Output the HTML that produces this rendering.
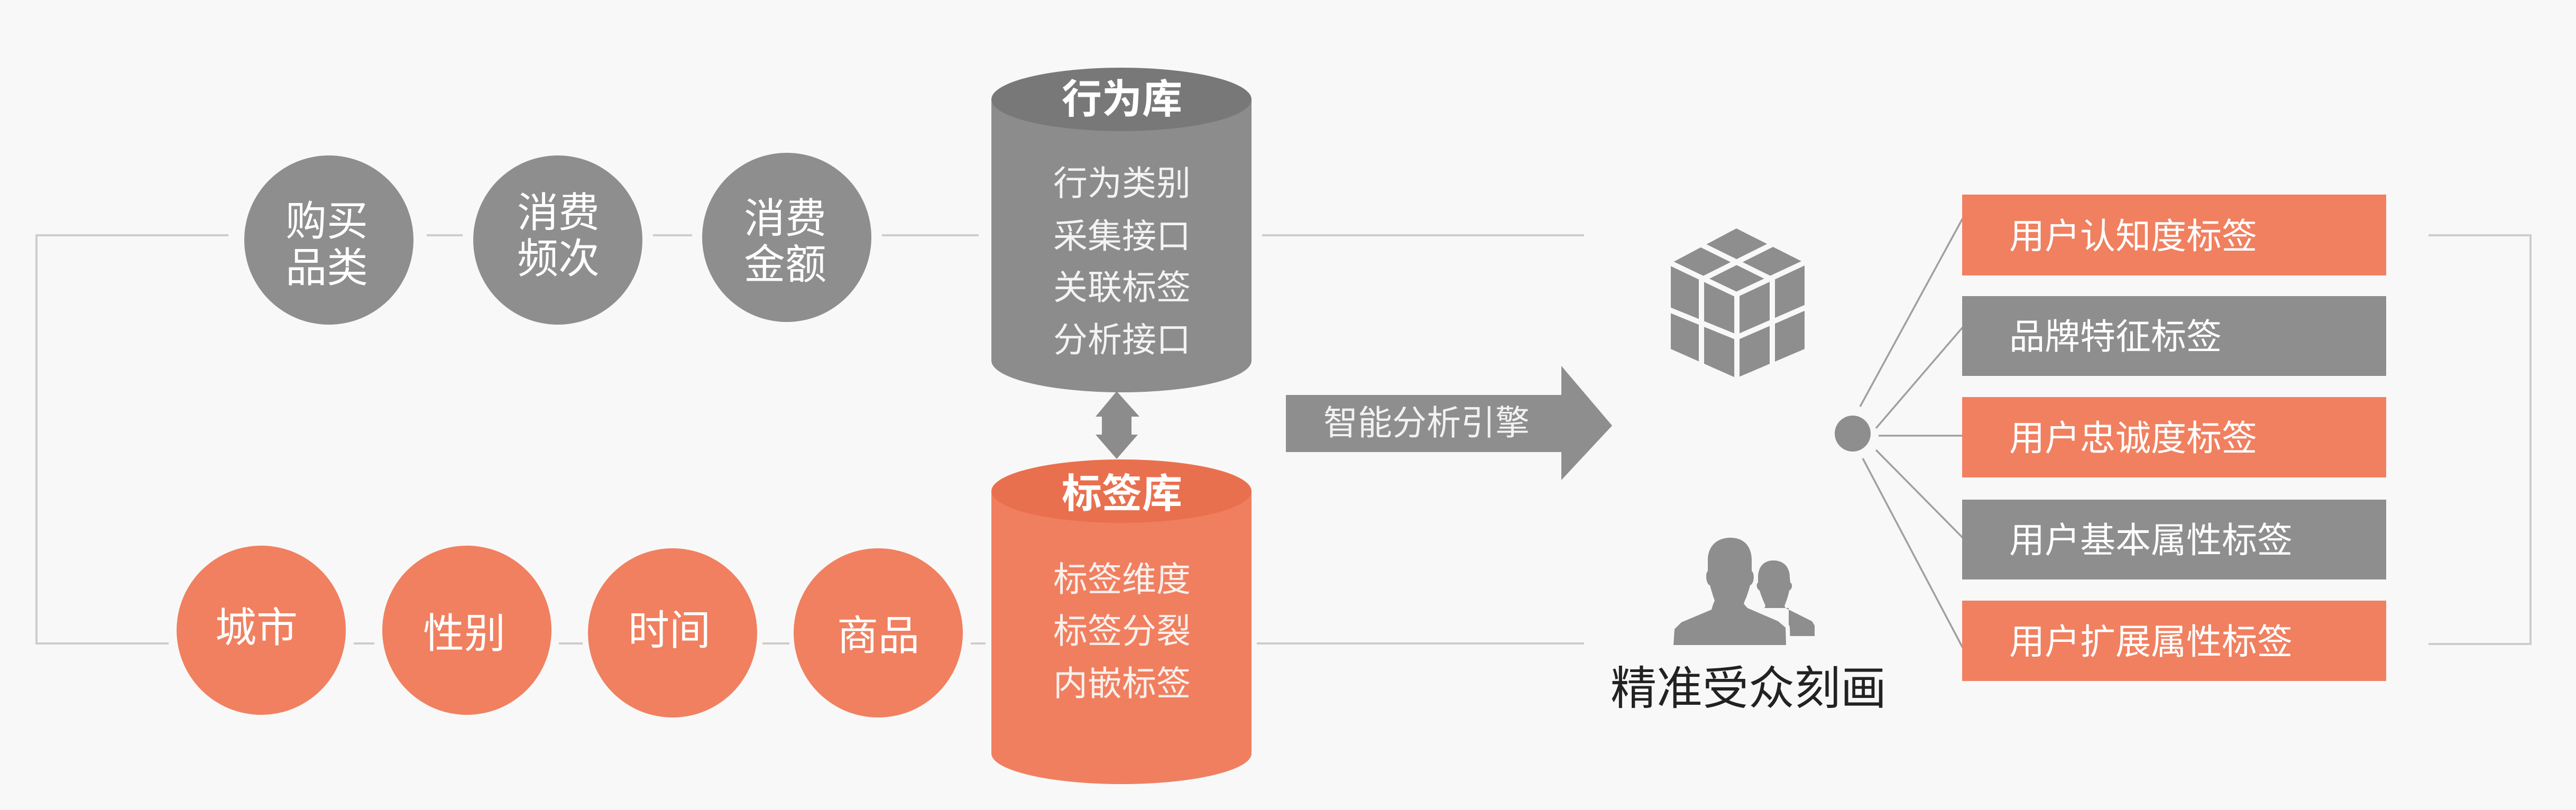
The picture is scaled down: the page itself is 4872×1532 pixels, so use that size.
<!DOCTYPE html>
<html>
<head>
<meta charset="utf-8">
<style>
  html, body { margin:0; padding:0; background:#f8f8f8; }
  body { width:4872px; height:1532px; overflow:hidden; }
  svg { display:block; }
  text { font-family: "Liberation Sans", "Noto Sans CJK SC", "WenQuanYi Zen Hei", sans-serif; }
</style>
</head>
<body>
<svg width="4872" height="1532" viewBox="0 0 4872 1532" xmlns="http://www.w3.org/2000/svg">
  <rect x="0" y="0" width="4872" height="1532" fill="#f8f8f8"/>

  <!-- connector lines -->
  <g stroke="#cdcdcd" stroke-width="4" fill="none">
    <polyline points="432,445 69,445 69,1217 319,1217"/>
    <line x1="807" y1="445" x2="875" y2="445"/>
    <line x1="1235" y1="445" x2="1309" y2="445"/>
    <line x1="1668" y1="445" x2="1851" y2="445"/>
    <line x1="2387" y1="445" x2="2996" y2="445"/>
    <line x1="669" y1="1217" x2="708" y2="1217"/>
    <line x1="1057" y1="1217" x2="1102" y2="1217"/>
    <line x1="1442" y1="1217" x2="1493" y2="1217"/>
    <line x1="1836" y1="1217" x2="1864" y2="1217"/>
    <line x1="2377" y1="1217" x2="2996" y2="1217"/>
    <polyline points="4593,445 4786,445 4786,1218 4593,1218"/>
  </g>

  <!-- top gray circles -->
  <g fill="#8e8e8e">
    <circle cx="622" cy="454" r="160"/>
    <circle cx="1055" cy="454" r="160"/>
    <circle cx="1488" cy="449" r="160"/>
  </g>
  <g fill="#ffffff" font-size="78" text-anchor="middle">
    <text x="618" y="445">购买</text>
    <text x="618" y="533">品类</text>
    <text x="1056" y="429">消费</text>
    <text x="1056" y="516">频次</text>
    <text x="1485" y="440">消费</text>
    <text x="1485" y="527">金额</text>
  </g>

  <!-- bottom orange circles -->
  <g fill="#f08060">
    <circle cx="494" cy="1192" r="160"/>
    <circle cx="883" cy="1192" r="160"/>
    <circle cx="1272" cy="1197" r="160"/>
    <circle cx="1661" cy="1197" r="160"/>
  </g>
  <g fill="#ffffff" font-size="78" text-anchor="middle">
    <text x="485" y="1214">城市</text>
    <text x="878" y="1225">性别</text>
    <text x="1266" y="1219">时间</text>
    <text x="1661" y="1229">商品</text>
  </g>

  <!-- 行为库 cylinder -->
  <path d="M1875,188 L1875,682 A246,60 0 0 0 2367,682 L2367,188 Z" fill="#8c8c8c"/>
  <ellipse cx="2121" cy="188" rx="246" ry="60" fill="#787878"/>
  <text x="2122" y="214" font-size="76" font-weight="bold" fill="#ffffff" text-anchor="middle">行为库</text>
  <g fill="#f3f3f3" font-size="65" text-anchor="middle">
    <text x="2122" y="369">行为类别</text>
    <text x="2122" y="469">采集接口</text>
    <text x="2122" y="566">关联标签</text>
    <text x="2122" y="665">分析接口</text>
  </g>

  <!-- double arrow -->
  <polygon points="2112,740 2155,788 2140,788 2140,822 2152,822 2112,868 2072,822 2084,822 2084,788 2072,788" fill="#8c8c8c"/>

  <!-- 标签库 cylinder -->
  <path d="M1875,929 L1875,1425 A246,58 0 0 0 2367,1425 L2367,929 Z" fill="#f07f60"/>
  <ellipse cx="2121" cy="929" rx="246" ry="60" fill="#e9704e"/>
  <text x="2122" y="960" font-size="76" font-weight="bold" fill="#ffffff" text-anchor="middle">标签库</text>
  <g fill="#f8f0ec" font-size="65" text-anchor="middle">
    <text x="2122" y="1118">标签维度</text>
    <text x="2122" y="1216">标签分裂</text>
    <text x="2122" y="1315">内嵌标签</text>
  </g>

  <!-- big arrow -->
  <polygon points="2432,747 2953,747 2953,692 3049,805 2953,908 2953,855 2432,855" fill="#8e8e8e"/>
  <text x="2698" y="822" font-size="65" fill="#f2f2f2" text-anchor="middle">智能分析引擎</text>

  <!-- cube icon -->
  <polygon points="3284,432 3413,497 3413,660 3284,715 3160,660 3160,498" fill="#8e8e8e"/>
  <g stroke="#f8f8f8" stroke-width="10" fill="none" stroke-linecap="square">
    <line x1="3150" y1="493" x2="3284" y2="557"/>
    <line x1="3284" y1="557" x2="3423" y2="492"/>
    <line x1="3285" y1="557" x2="3285" y2="725"/>
    <line x1="3222" y1="465" x2="3348" y2="527"/>
    <line x1="3348" y1="464" x2="3222" y2="527"/>
    <line x1="3218" y1="527" x2="3218" y2="695"/>
    <line x1="3352" y1="527" x2="3352" y2="695"/>
    <line x1="3150" y1="583" x2="3285" y2="638"/>
    <line x1="3285" y1="638" x2="3423" y2="578"/>
  </g>

  <!-- people icon -->
  <path d="M3354,1060 C3336,1060 3325,1072 3325,1092 L3325,1102 C3321,1104 3322,1114 3328,1117 C3331,1128 3336,1138 3339,1146 L3337,1150 L3383,1150 L3383,1203 L3432,1203 L3432,1183 L3427,1175 L3377,1150 L3375,1146 C3378,1138 3382,1128 3384,1117 C3390,1114 3391,1104 3386,1102 L3385,1092 C3385,1072 3373,1060 3354,1060 Z" fill="#8e8e8e"/>
  <path d="M3273,1017 C3248,1017 3230,1032 3230,1060 L3230,1080 C3225,1084 3226,1104 3234,1107 C3237,1118 3240,1128 3243,1136 L3240,1143 L3237,1153 L3180,1177 L3167,1190 L3165,1220 L3378,1220 L3377,1187 L3363,1175 L3305,1150 L3298,1142 L3300,1136 C3304,1128 3307,1118 3310,1107 C3318,1104 3319,1084 3313,1080 L3313,1060 C3313,1032 3297,1017 3273,1017 Z" fill="#8e8e8e" stroke="#f8f8f8" stroke-width="16" paint-order="stroke" stroke-linejoin="round"/>

  <text x="3307" y="1332" font-size="87" fill="#222222" text-anchor="middle">精准受众刻画</text>

  <!-- hub -->
  <circle cx="3504" cy="820" r="34" fill="#8e8e8e"/>
  <g stroke="#a0a0a0" stroke-width="3.5" fill="none">
    <line x1="3518" y1="769" x2="3712" y2="413"/>
    <line x1="3548" y1="810" x2="3712" y2="619"/>
    <line x1="3553" y1="824" x2="3712" y2="824"/>
    <line x1="3548" y1="851" x2="3712" y2="1017"/>
    <line x1="3523" y1="867" x2="3712" y2="1225"/>
  </g>

  <!-- tag boxes -->
  <rect x="3711" y="368" width="802" height="153" fill="#f08060"/>
  <rect x="3711" y="560" width="802" height="151" fill="#8e8e8e"/>
  <rect x="3711" y="751" width="802" height="152" fill="#f08060"/>
  <rect x="3711" y="945" width="802" height="151" fill="#8e8e8e"/>
  <rect x="3711" y="1136" width="802" height="152" fill="#f08060"/>
  <g fill="#ffffff" font-size="67">
    <text x="3800" y="470">用户认知度标签</text>
    <text x="3800" y="660">品牌特征标签</text>
    <text x="3800" y="852">用户忠诚度标签</text>
    <text x="3800" y="1045">用户基本属性标签</text>
    <text x="3800" y="1237">用户扩展属性标签</text>
  </g>
</svg>
</body>
</html>
